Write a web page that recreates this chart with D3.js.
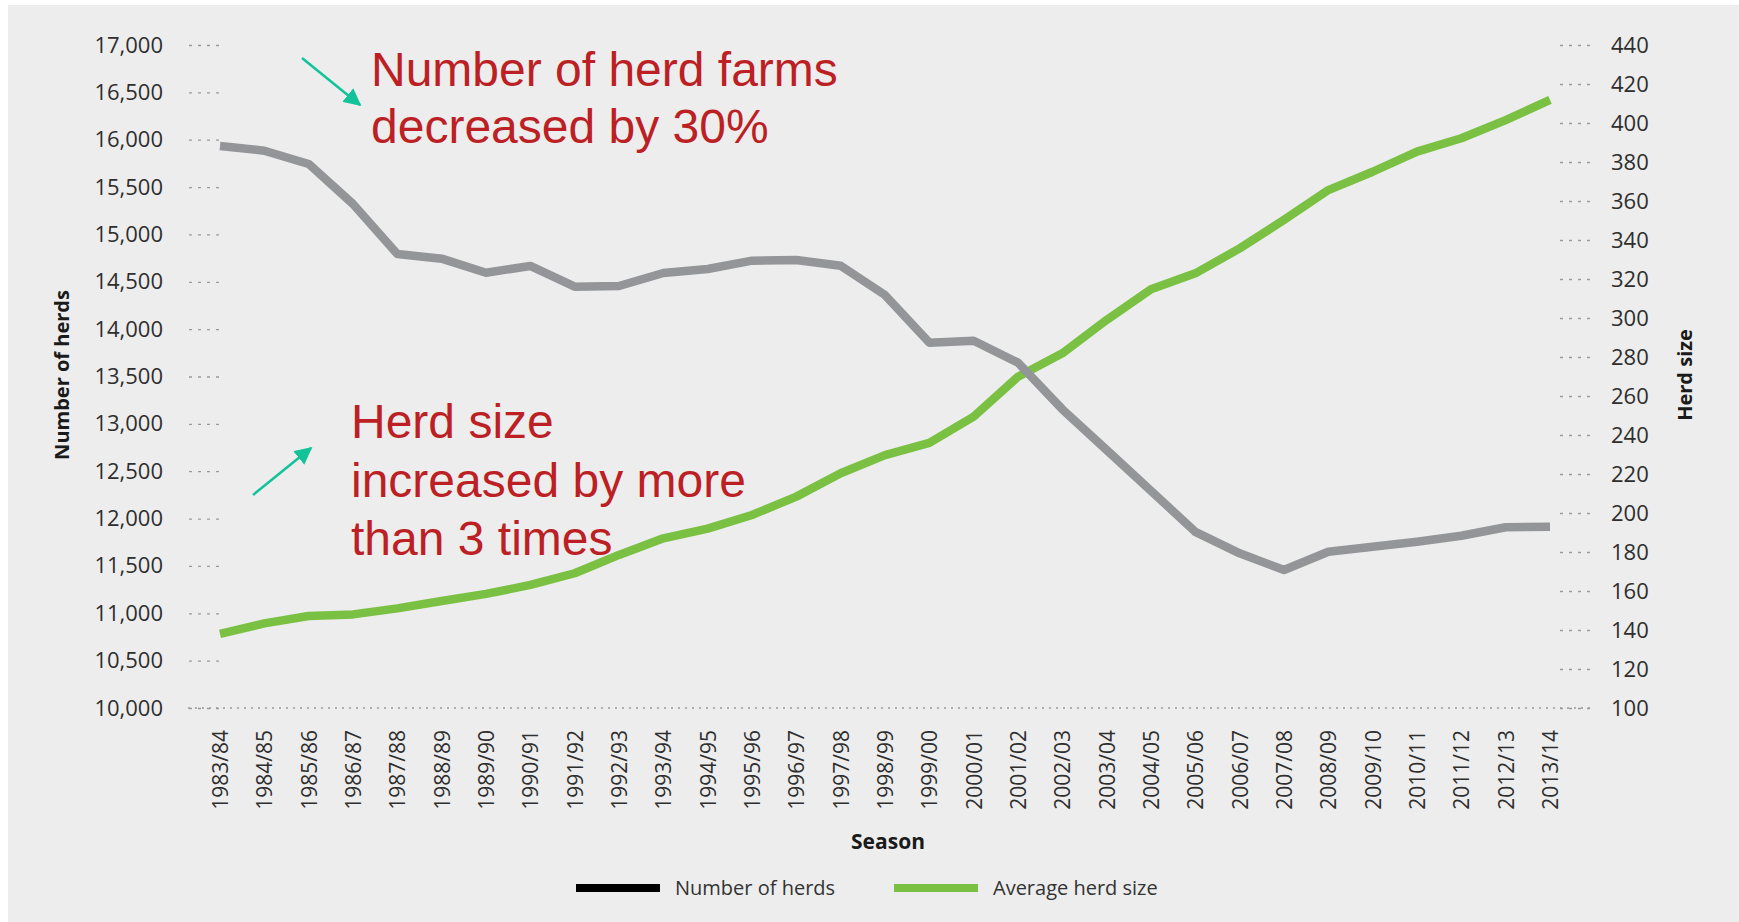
<!DOCTYPE html>
<html>
<head>
<meta charset="utf-8">
<script src="https://cdn.jsdelivr.net/npm/d3@7"></script>
<style>
  body { margin: 0; background: #ffffff; }
  svg { display: block; }
  .tick text { font-family: "Open Sans", sans-serif; fill: #2e2e2e; }
  .axis-title { font-family: "Open Sans", sans-serif; font-weight: bold; fill: #1a1a1a; }
  .note { font-family: "Liberation Sans", Arial, sans-serif; fill: #bc1f24; }
</style>
</head>
<body>
<div id="chart"></div>
<script>
// seasons on the x axis
const seasons = ['1983/84', '1984/85', '1985/86', '1986/87', '1987/88', '1988/89', '1989/90',
    '1990/91', '1991/92', '1992/93', '1993/94', '1994/95', '1995/96', '1996/97', '1997/98',
    '1998/99', '1999/00', '2000/01', '2001/02', '2002/03', '2003/04', '2004/05', '2005/06',
    '2006/07', '2007/08', '2008/09', '2009/10', '2010/11', '2011/12', '2012/13', '2013/14'];

// number of herds (left axis)
const herds = [15934, 15884, 15744, 15321, 14793, 14744, 14596, 14667, 14448, 14455, 14593,
    14635, 14723, 14730, 14670, 14360, 13857, 13878, 13646, 13154, 12724, 12293, 11860,
    11633, 11457, 11650, 11703, 11756, 11819, 11908, 11914];

// average herd size (right axis)
const herdSize = [138, 143.4, 147.2, 148, 151.1, 154.9, 158.5, 163.1, 169.1, 178.5, 187,
    192, 199, 208.4, 220.4, 229.7, 236, 249.4, 269.9, 281.9, 299, 314.8, 322.9, 335.7,
    350.3, 365.6, 375, 385.3, 392.2, 401.5, 411.8];

const leftTicks = [10000, 10500, 11000, 11500, 12000, 12500, 13000, 13500, 14000, 14500,
    15000, 15500, 16000, 16500, 17000];
const rightTicks = [100, 120, 140, 160, 180, 200, 220, 240, 260, 280, 300, 320, 340, 360,
    380, 400, 420, 440];

const noteTop = ['Number of herd farms', 'decreased by 30%'];
const noteBottom = ['Herd size', 'increased by more', 'than 3 times'];

const width = 1739, height = 922;
const plot = { left: 219, right: 1560, top: 45, bottom: 708 };

const svg = d3.select('#chart').append('svg')
    .attr('width', width)
    .attr('height', height);

// grey panel
svg.append('rect')
    .attr('x', 8).attr('y', 5)
    .attr('width', width - 8).attr('height', height - 5)
    .attr('fill', '#ededed');

const x = d3.scalePoint().domain(seasons).range([220, 1550]);
const yLeft = d3.scaleLinear().domain([10000, 17000]).range([plot.bottom, plot.top]);
const yRight = d3.scaleLinear().domain([100, 440]).range([plot.bottom, plot.top]);

// dotted baseline
svg.append('line')
    .attr('x1', 188).attr('x2', 1592)
    .attr('y1', yLeft(10000)).attr('y2', yLeft(10000))
    .attr('stroke', '#9a9a9a')
    .attr('stroke-width', 1.3)
    .attr('stroke-dasharray', '2,5');

// left axis
const leftAxis = svg.append('g')
    .attr('class', 'axis')
    .attr('transform', `translate(${plot.left},0)`)
    .call(d3.axisLeft(yLeft).tickValues(leftTicks).tickFormat(d3.format(',')).tickSize(31).tickPadding(25));
leftAxis.select('.domain').remove();
leftAxis.selectAll('.tick line')
    .attr('stroke', '#9a9a9a').attr('stroke-width', 1.3).attr('stroke-dasharray', '3,6');
leftAxis.selectAll('.tick text').style('font-size', '22px');

// right axis
const rightAxis = svg.append('g')
    .attr('class', 'axis')
    .attr('transform', `translate(${plot.right},0)`)
    .call(d3.axisRight(yRight).tickValues(rightTicks).tickSize(32).tickPadding(19));
rightAxis.select('.domain').remove();
rightAxis.selectAll('.tick line')
    .attr('stroke', '#9a9a9a').attr('stroke-width', 1.3).attr('stroke-dasharray', '3,6');
rightAxis.selectAll('.tick text').style('font-size', '22px');

// x axis with rotated season labels
const xAxis = svg.append('g')
    .attr('class', 'axis')
    .attr('transform', `translate(0,${plot.bottom})`)
    .call(d3.axisBottom(x).tickSize(0));
xAxis.select('.domain').remove();
xAxis.selectAll('.tick text')
    .attr('transform', 'rotate(-90)')
    .attr('x', -22)
    .attr('y', 0)
    .attr('dy', '0.35em')
    .attr('text-anchor', 'end')
    .style('font-size', '21px');

// axis titles
svg.append('text')
    .attr('class', 'axis-title')
    .attr('transform', 'translate(62,375) rotate(-90)')
    .attr('text-anchor', 'middle')
    .attr('dy', '0.35em')
    .style('font-size', '20px')
    .text('Number of herds');

svg.append('text')
    .attr('class', 'axis-title')
    .attr('transform', 'translate(1685,375) rotate(-90)')
    .attr('text-anchor', 'middle')
    .attr('dy', '0.35em')
    .style('font-size', '20px')
    .text('Herd size');

svg.append('text')
    .attr('class', 'axis-title')
    .attr('x', 888).attr('y', 842)
    .attr('text-anchor', 'middle')
    .attr('dy', '0.35em')
    .style('font-size', '21px')
    .text('Season');

// lines
const sizeLine = d3.line()
    .x((d, i) => x(seasons[i]))
    .y(d => yRight(d));
const herdLine = d3.line()
    .x((d, i) => x(seasons[i]))
    .y(d => yLeft(d));

svg.append('path')
    .datum(herdSize)
    .attr('d', sizeLine)
    .attr('fill', 'none')
    .attr('stroke', '#7ac143')
    .attr('stroke-width', 8.5)
    .attr('stroke-linejoin', 'round');

svg.append('path')
    .datum(herds)
    .attr('d', herdLine)
    .attr('fill', 'none')
    .attr('stroke', '#939598')
    .attr('stroke-width', 8.5)
    .attr('stroke-linejoin', 'round');

// legend
const legend = svg.append('g').attr('class', 'legend');
const legendItems = [
    { label: 'Number of herds', color: '#000000', x: 576 },
    { label: 'Average herd size', color: '#7ac143', x: 894 }
];
legendItems.forEach(item => {
    legend.append('line')
        .attr('x1', item.x).attr('x2', item.x + 84)
        .attr('y1', 888).attr('y2', 888)
        .attr('stroke', item.color)
        .attr('stroke-width', 8);
    legend.append('text')
        .attr('x', item.x + 99).attr('y', 888)
        .attr('dy', '0.35em')
        .style('font-family', '"Open Sans", sans-serif')
        .style('font-size', '20px')
        .style('fill', '#333333')
        .text(item.label);
});

// annotations
svg.append('defs').append('marker')
    .attr('id', 'arrow')
    .attr('viewBox', '0 0 10 10')
    .attr('refX', 9).attr('refY', 5)
    .attr('markerWidth', 7).attr('markerHeight', 7)
    .attr('markerUnits', 'strokeWidth')
    .attr('orient', 'auto')
    .append('path')
    .attr('d', 'M0,0 L10,5 L0,10 Z')
    .attr('fill', '#12c39a');

function arrow(x1, y1, x2, y2) {
    svg.append('line')
        .attr('x1', x1).attr('y1', y1)
        .attr('x2', x2).attr('y2', y2)
        .attr('stroke', '#12c39a')
        .attr('stroke-width', 2.5)
        .attr('marker-end', 'url(#arrow)');
}
arrow(302, 58, 360, 105);
arrow(253, 495, 311, 448);

noteTop.forEach((t, i) => {
    svg.append('text')
        .attr('class', 'note')
        .attr('x', 371).attr('y', 86 + i * 57)
        .style('font-size', '48px')
        .text(t);
});
noteBottom.forEach((t, i) => {
    svg.append('text')
        .attr('class', 'note')
        .attr('x', 351).attr('y', 438 + i * 58.5)
        .style('font-size', '48px')
        .text(t);
});
</script>
</body>
</html>
